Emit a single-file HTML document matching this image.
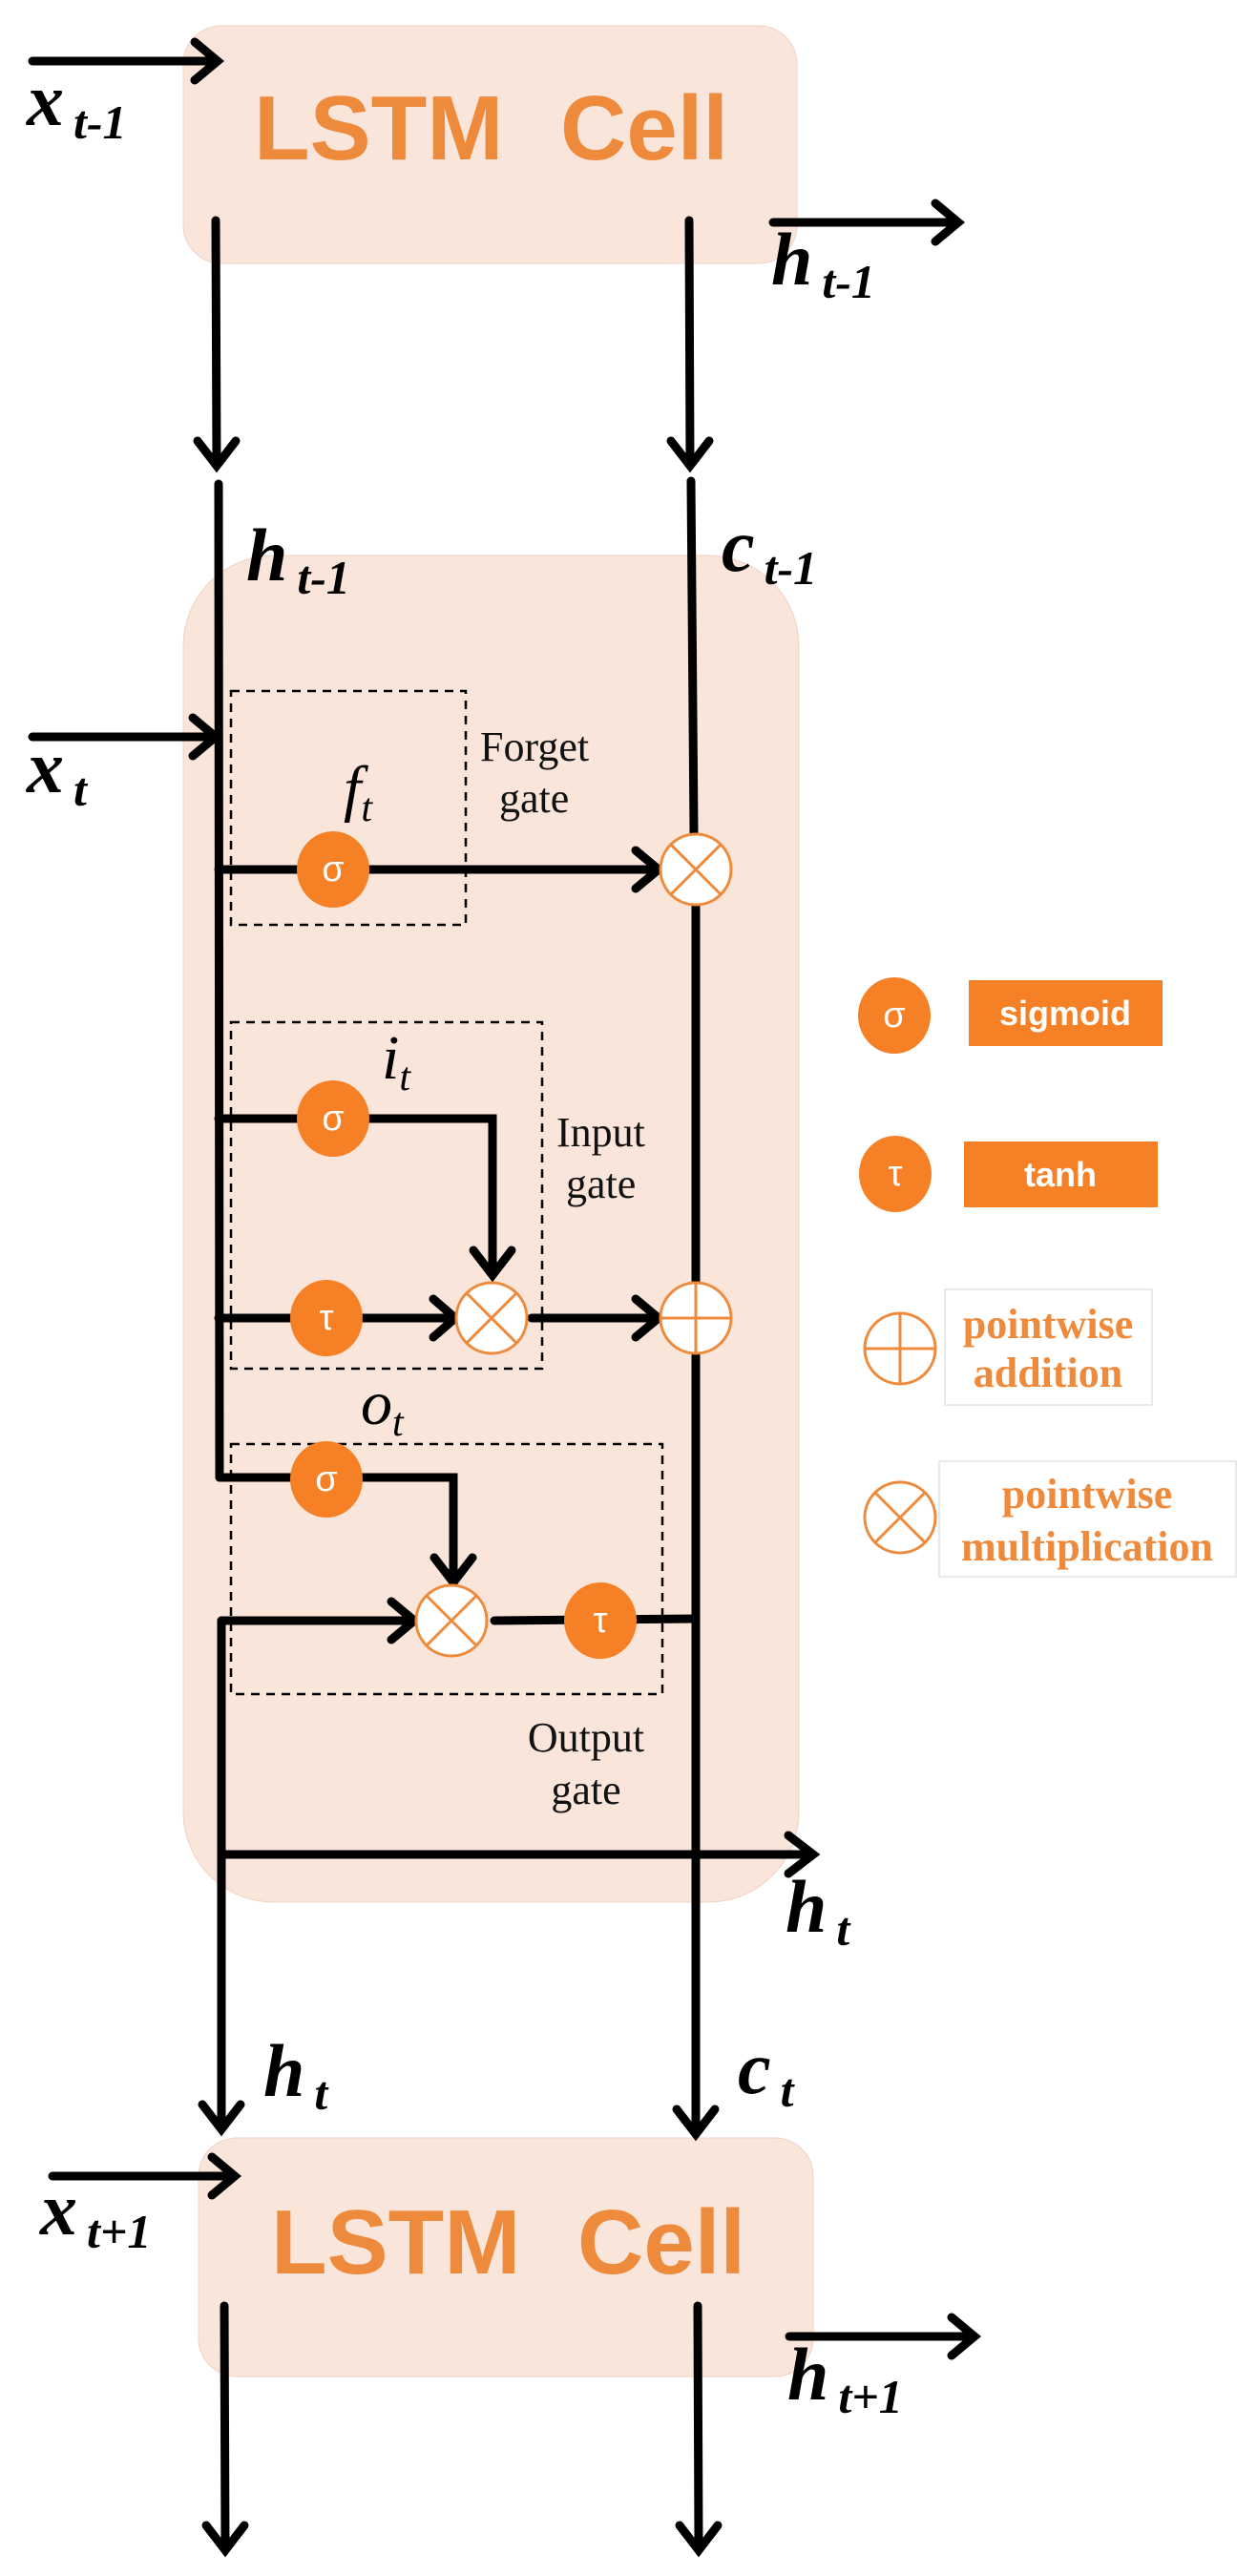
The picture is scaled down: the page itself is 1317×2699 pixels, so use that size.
<!DOCTYPE html>
<html><head><meta charset="utf-8"><style>
html,body{margin:0;padding:0;background:#fff;}
svg{display:block;}
.m{font-family:"Liberation Serif",serif;font-style:italic;font-weight:bold;fill:#000;}
.g{font-family:"Liberation Serif",serif;font-style:italic;fill:#000;}
.lbl{font-family:"Liberation Serif",serif;fill:#111;font-size:44px;}
.big{font-family:"Liberation Sans",sans-serif;font-weight:bold;fill:#EE8A3C;font-size:96px;}
.sym{font-family:"Liberation Sans","DejaVu Sans",sans-serif;fill:#fff;font-size:38px;text-anchor:middle;}
.leg{font-family:"Liberation Serif",serif;font-weight:bold;fill:#EE8A3C;font-size:44px;text-anchor:middle;}
.lb{font-family:"Liberation Sans","DejaVu Sans",sans-serif;font-weight:bold;fill:#fff;font-size:36px;text-anchor:middle;}
</style></head><body>
<svg width="1317" height="2699" viewBox="0 0 1317 2699" xmlns="http://www.w3.org/2000/svg">
<g fill="#FAE5DA" stroke="#EDD2C4" stroke-width="1">
<rect x="192" y="27" width="643" height="249" rx="40"/>
<rect x="192" y="582" width="645" height="1411" rx="95"/>
<rect x="208" y="2240" width="644" height="250" rx="40"/>
</g>
<text class="big" x="266" y="167">LSTM</text>
<text class="big" x="587" y="167">Cell</text>
<text class="big" x="284" y="2382">LSTM</text>
<text class="big" x="605" y="2382">Cell</text>

<g stroke="#000" stroke-width="9" fill="none" stroke-linecap="round" stroke-linejoin="miter">
<line x1="34" y1="64" x2="226" y2="64"/><polyline points="204,44 228,64 204,84"/>
<line x1="226" y1="231" x2="227" y2="486"/><polyline points="207,462 227,488 247,462"/>
<line x1="722" y1="231" x2="723" y2="486"/><polyline points="703,462 723,488 743,462"/>
<line x1="810" y1="233" x2="1000" y2="233"/><polyline points="980,213 1004,233 980,253"/>
<line x1="229" y1="507" x2="230" y2="1548"/>
<line x1="724" y1="504" x2="727" y2="872"/>
<line x1="729" y1="950" x2="729" y2="1342"/>
<line x1="729" y1="1420" x2="729" y2="2236"/>
<line x1="34" y1="772" x2="224" y2="772"/><polyline points="202,752 226,772 202,792"/>
<line x1="229" y1="911" x2="688" y2="911"/><polyline points="666,891 690,911 666,931"/>
<polyline points="229,1172 516,1172 516,1334"/><polyline points="496,1310 516,1336 536,1310"/>
<line x1="229" y1="1381" x2="474" y2="1381"/><polyline points="454,1361 477,1381 454,1401"/>
<line x1="557" y1="1381" x2="686" y2="1381"/><polyline points="666,1361 690,1381 666,1401"/>
<polyline points="230,1548 475,1548 475,1656"/><polyline points="455,1632 475,1658 495,1632"/>
<line x1="232" y1="1698" x2="428" y2="1698"/><polyline points="410,1678 434,1698 410,1718"/>
<line x1="518" y1="1698" x2="729" y2="1696"/>
<line x1="232" y1="1698" x2="232" y2="2227"/><polyline points="212,2205 232,2231 252,2205"/>
<line x1="232" y1="1943" x2="848" y2="1943"/><polyline points="826,1923 852,1943 826,1963"/>
<polyline points="709,2210 729,2236 749,2210"/>
<line x1="55" y1="2280" x2="242" y2="2280"/><polyline points="222,2260 246,2280 222,2300"/>
<line x1="235" y1="2416" x2="236" y2="2668"/><polyline points="216,2646 236,2672 256,2646"/>
<line x1="731" y1="2416" x2="732" y2="2668"/><polyline points="712,2646 732,2672 752,2646"/>
<line x1="827" y1="2448" x2="1017" y2="2448"/><polyline points="997,2428 1021,2448 997,2468"/>
</g>

<g fill="none" stroke="#000" stroke-width="2.5" stroke-dasharray="9,7">
<rect x="242" y="724" width="246" height="245"/>
<rect x="242" y="1071" width="326" height="363"/>
<rect x="242" y="1513" width="452" height="262"/>
</g>

<g fill="#F58025">
<ellipse cx="349" cy="911" rx="38" ry="40"/>
<ellipse cx="349" cy="1172" rx="38" ry="40"/>
<ellipse cx="342" cy="1381" rx="38" ry="40"/>
<ellipse cx="342" cy="1550" rx="38" ry="40"/>
<ellipse cx="629" cy="1698" rx="38" ry="40"/>
<ellipse cx="937" cy="1064" rx="38" ry="40"/>
<ellipse cx="938" cy="1230" rx="38" ry="40"/>
</g>
<text class="sym" x="349" y="923">σ</text>
<text class="sym" x="349" y="1184">σ</text>
<text class="sym" x="342" y="1393">τ</text>
<text class="sym" x="342" y="1562">σ</text>
<text class="sym" x="629" y="1710">τ</text>
<text class="sym" x="937" y="1076">σ</text>
<text class="sym" x="938" y="1242">τ</text>

<g fill="#fff" stroke="#EE8A3C" stroke-width="3">
<circle cx="729" cy="911" r="37"/>
<circle cx="515" cy="1381" r="37"/>
<circle cx="729" cy="1381" r="37"/>
<circle cx="473" cy="1698" r="37"/>
<circle cx="943" cy="1413" r="37"/>
<circle cx="943" cy="1590" r="37"/>
</g>
<g stroke="#EE8A3C" stroke-width="3">
<path d="M703,885 L755,937 M755,885 L703,937"/>
<path d="M489,1355 L541,1407 M541,1355 L489,1407"/>
<path d="M692,1381 L766,1381 M729,1344 L729,1418"/>
<path d="M447,1672 L499,1724 M499,1672 L447,1724"/>
<path d="M906,1413 L980,1413 M943,1376 L943,1450"/>
<path d="M917,1564 L969,1616 M969,1564 L917,1616"/>
</g>

<rect x="1015" y="1027" width="203" height="69" fill="#F58025"/>
<text class="lb" x="1116" y="1074">sigmoid</text>
<rect x="1010" y="1196" width="203" height="69" fill="#F58025"/>
<text class="lb" x="1111" y="1243">tanh</text>
<rect x="990" y="1351" width="217" height="121" fill="#fff" stroke="#e2e2e2" stroke-width="1.5"/>
<text class="leg" x="1098" y="1402">pointwise</text>
<text class="leg" x="1098" y="1453">addition</text>
<rect x="984" y="1531" width="311" height="121" fill="#fff" stroke="#e2e2e2" stroke-width="1.5"/>
<text class="leg" x="1139" y="1580">pointwise</text>
<text class="leg" x="1139" y="1635">multiplication</text>

<text class="lbl" x="503" y="797">Forget</text>
<text class="lbl" x="523" y="851">gate</text>
<text class="lbl" x="583" y="1201">Input</text>
<text class="lbl" x="593" y="1255">gate</text>
<text class="lbl" x="614" y="1835" text-anchor="middle">Output</text>
<text class="lbl" x="614" y="1890" text-anchor="middle">gate</text>
<text class="g" x="360" y="848" font-size="66">f<tspan font-size="42" dy="12">t</tspan></text>
<text class="g" x="400" y="1130" font-size="66">i<tspan font-size="42" dy="12">t</tspan></text>
<text class="g" x="378" y="1492" font-size="66">o<tspan font-size="42" dy="12">t</tspan></text>

<text class="m" x="28" y="131" font-size="78">x<tspan font-size="50" dx="10" dy="14">t-1</tspan></text>
<text class="m" x="808" y="298" font-size="78">h<tspan font-size="50" dx="10" dy="14">t-1</tspan></text>
<text class="m" x="258" y="608" font-size="78">h<tspan font-size="50" dx="10" dy="14">t-1</tspan></text>
<text class="m" x="756" y="598" font-size="78">c<tspan font-size="50" dx="10" dy="14">t-1</tspan></text>
<text class="m" x="28" y="830" font-size="78">x<tspan font-size="50" dx="10" dy="14">t</tspan></text>
<text class="m" x="823" y="2024" font-size="78">h<tspan font-size="50" dx="10" dy="14">t</tspan></text>
<text class="m" x="276" y="2196" font-size="78">h<tspan font-size="50" dx="10" dy="14">t</tspan></text>
<text class="m" x="773" y="2193" font-size="78">c<tspan font-size="50" dx="10" dy="14">t</tspan></text>
<text class="m" x="42" y="2341" font-size="78">x<tspan font-size="50" dx="10" dy="14">t+1</tspan></text>
<text class="m" x="825" y="2514" font-size="78">h<tspan font-size="50" dx="10" dy="14">t+1</tspan></text>
</svg>
</body></html>
